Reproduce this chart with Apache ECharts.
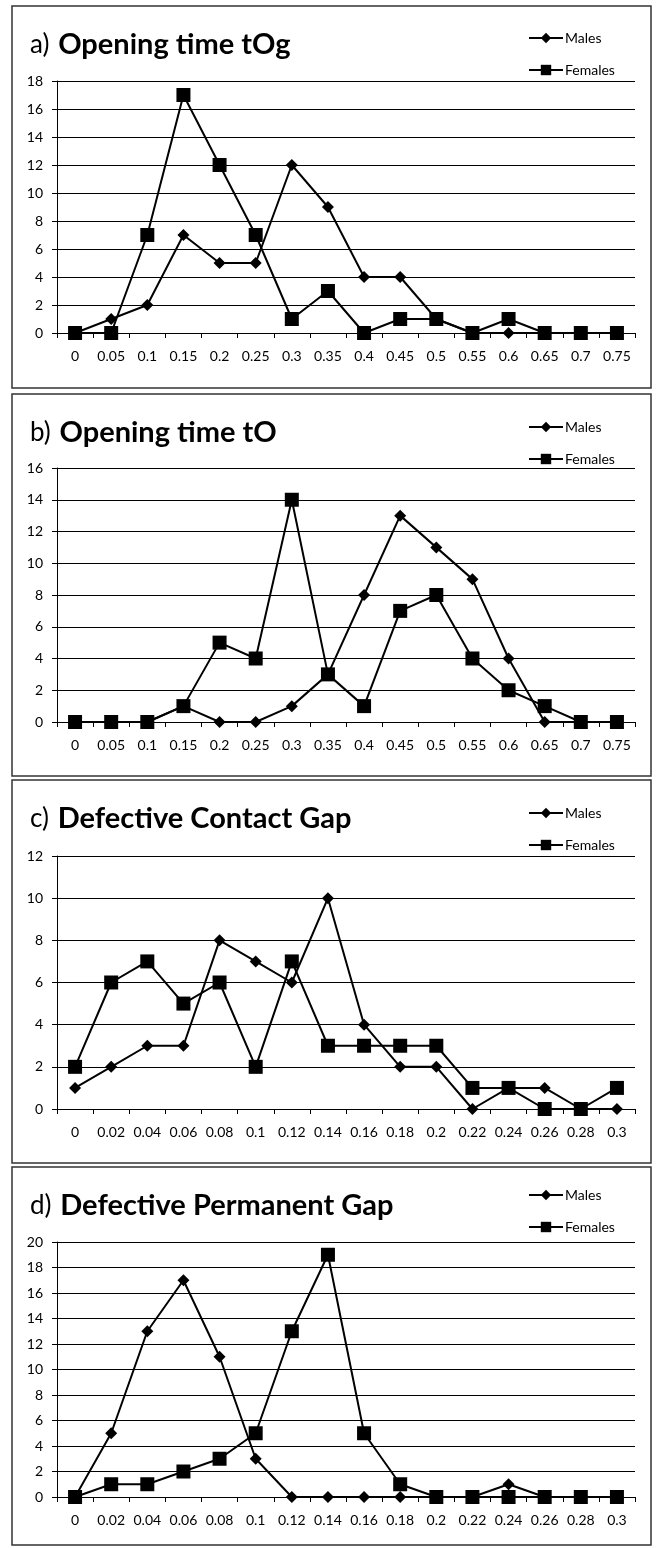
<!DOCTYPE html>
<html lang="en">
<head>
  <meta charset="UTF-8">
  <title>Opening time and gap distributions</title>
  <script src="https://cdn.jsdelivr.net/npm/echarts@6/dist/echarts.min.js"></script>
  <style>
    html, body { margin: 0; padding: 0; background: #fff; }
  </style>
</head>
<body>
<div id="main" style="width:658px;height:1548px;"></div>
<script>
  // category labels
  var timeLabels = ['0','0.05','0.1','0.15','0.2','0.25','0.3','0.35','0.4','0.45','0.5','0.55','0.6','0.65','0.7','0.75'];
  var gapLabels = ['0','0.02','0.04','0.06','0.08','0.1','0.12','0.14','0.16','0.18','0.2','0.22','0.24','0.26','0.28','0.3'];

  // a) Opening time tOg
  var malesA   = [0,1,2,7,5,5,12,9,4,4,1,0,0,0,0,0];
  var femalesA = [0,0,7,17,12,7,1,3,0,1,1,0,1,0,0,0];
  // b) Opening time tO
  var malesB   = [0,0,0,1,0,0,1,3,8,13,11,9,4,0,0,0];
  var femalesB = [0,0,0,1,5,4,14,3,1,7,8,4,2,1,0,0];
  // c) Defective Contact Gap
  var malesC   = [1,2,3,3,8,7,6,10,4,2,2,0,1,1,0,0];
  var femalesC = [2,6,7,5,6,2,7,3,3,3,3,1,1,0,0,1];
  // d) Defective Permanent Gap
  var malesD   = [0,5,13,17,11,3,0,0,0,0,0,0,1,0,0,0];
  var femalesD = [0,1,1,2,3,5,13,19,5,1,0,0,0,0,0,0];

  var yMaxes = [18, 16, 12, 20];

  var panels = [
    {tag:'a)', name:'Opening time tOg',        cats:timeLabels, m:malesA, f:femalesA, box:[6,388],    grid:[81,252],   legend:[33,64]},
    {tag:'b)', name:'Opening time tO',         cats:timeLabels, m:malesB, f:femalesB, box:[394,776],  grid:[468,254],  legend:[422,453]},
    {tag:'c)', name:'Defective Contact Gap',   cats:gapLabels,  m:malesC, f:femalesC, box:[780,1163], grid:[856,253],  legend:[808,840]},
    {tag:'d)', name:'Defective Permanent Gap', cats:gapLabels,  m:malesD, f:femalesD, box:[1167,1545],grid:[1242,255], legend:[1190,1222]}
  ];

  var font = 'Lato, "Liberation Sans", sans-serif';
  var option = {
    animation: false,
    backgroundColor: '#fff',
    textStyle: {fontFamily: font, color: '#000'},
    title: [], legend: [], grid: [], xAxis: [], yAxis: [], series: [], graphic: []
  };

  panels.forEach(function (p, i) {
    // frame round each panel
    option.graphic.push({
      type: 'rect', silent: true,
      shape: {x: 12, y: p.box[0], width: 639, height: p.box[1] - p.box[0]},
      style: {fill: 'none', stroke: '#333', lineWidth: 1.5}
    });
    option.title.push({
      text: '{n|' + p.tag + '}  {b|' + p.name + '}',
      left: 25, top: p.box[0] + 19,
      textStyle: {
        rich: {
          n: {fontFamily: font, fontSize: 26, fontWeight: 'normal', color: '#000'},
          b: {fontFamily: font, fontSize: 29, fontWeight: 'bold', color: '#000'}
        }
      }
    });
    option.legend.push({
      orient: 'vertical', left: 523, top: p.legend[0] - 7,
      itemWidth: 34, itemHeight: 13, itemGap: 18,
      data: ['Males', 'Females'],
      textStyle: {fontFamily: font, fontSize: 14, color: '#000', padding: [0, 0, 0, -3]},
      selectedMode: false
    });
    option.grid.push({left: 57, right: 23, top: p.grid[0], height: p.grid[1]});
    option.xAxis.push({
      type: 'category', gridIndex: i, data: p.cats, boundaryGap: true,
      axisLine: {lineStyle: {color: '#000', width: 1}},
      axisTick: {show: true, alignWithLabel: false, length: 5, lineStyle: {color: '#000'}},
      axisLabel: {interval: 0, margin: 16, fontSize: 14, color: '#000', fontFamily: font}
    });
    option.yAxis.push({
      type: 'value', gridIndex: i, min: 0, max: yMaxes[i], interval: 2,
      axisLine: {show: true, lineStyle: {color: '#000', width: 1}},
      axisTick: {show: true, length: 5, lineStyle: {color: '#000'}},
      axisLabel: {margin: 14, fontSize: 14, color: '#000', fontFamily: font},
      splitLine: {lineStyle: {color: '#000', width: 1}}
    });
    option.series.push({
      name: 'Males', type: 'line', xAxisIndex: i, yAxisIndex: i, data: p.m,
      symbol: 'diamond', symbolSize: 12,
      lineStyle: {color: '#000', width: 2}, itemStyle: {color: '#000'}
    });
    option.series.push({
      name: 'Females', type: 'line', xAxisIndex: i, yAxisIndex: i, data: p.f,
      symbol: 'rect', symbolSize: 14,
      lineStyle: {color: '#000', width: 2}, itemStyle: {color: '#000'}
    });
  });

  var myChart = echarts.init(document.getElementById('main'));
  myChart.setOption(option);
</script>
</body>
</html>
